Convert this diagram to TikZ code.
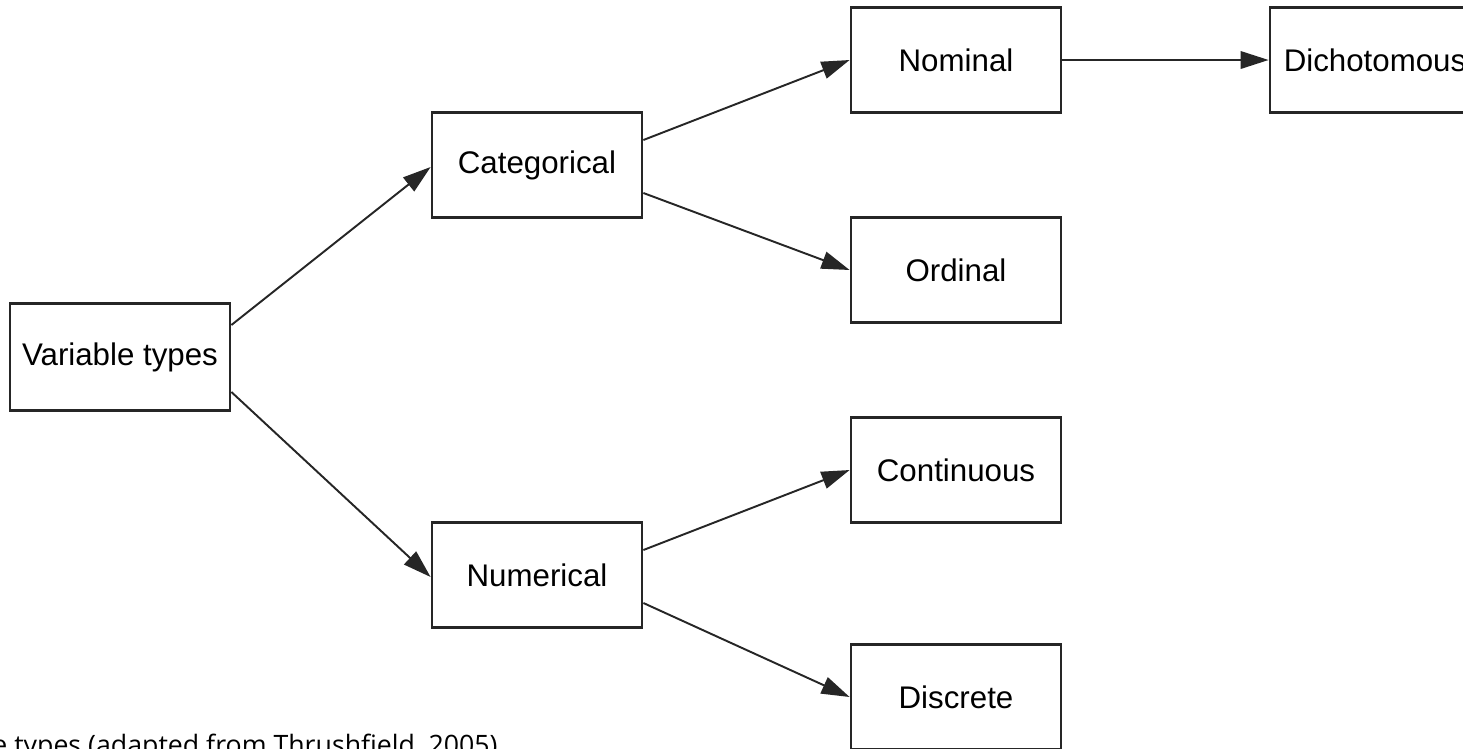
\documentclass[tikz,border=0pt]{standalone}
\usepackage{fontspec}
\setmainfont{Liberation Sans}
\newfontfamily\captionfont{Open Sans}
\usetikzlibrary{arrows.meta}

\tikzset{
	typebox/.style = {draw = black!85, line width = 1.6pt, fill = white,
		minimum width = 4.2cm, minimum height = 2.1cm, inner sep = 0pt,
		font = \fontsize{17.8}{21}\selectfont},
	typearrow/.style = {draw = black!85, line width = 1.1pt,
		-{Triangle[length = 16pt, width = 10pt]}}
}

\begin{document}
\begin{tikzpicture}[x = 0.02cm, y = -0.02cm]
	
	\useasboundingbox (0,0) rectangle (1463,748);
	\clip (0,0) rectangle (1463,748);
	
	%% ROOT
	\node [typebox, minimum width = 4.4cm, minimum height = 2.14cm] (vartypes) at (120,357) {Variable types};
	
	%% SECOND LEVEL
	\node [typebox] (categorical) at (537,165) {Categorical};
	\node [typebox] (numerical)   at (537,575) {Numerical};
	
	%% THIRD LEVEL
	\node [typebox] (nominal)    at (956,60)  {Nominal};
	\node [typebox] (ordinal)    at (956,270) {Ordinal};
	\node [typebox] (continuous) at (956,470) {Continuous};
	\node [typebox] (discrete)   at (956,697) {Discrete};
	
	% Last box, cut at the right edge
	\node [typebox] (dichotomous) at (1375,60) {Dichotomous};
	
	%% ARROWS
	\draw [typearrow] ([yshift = 0.64cm]vartypes.east)  -- ([yshift = -0.04cm]categorical.west);
	\draw [typearrow] ([yshift = -0.7cm]vartypes.east)  -- ([yshift = -0.04cm]numerical.west);
	
	\draw [typearrow] ([yshift = 0.5cm]categorical.east) -- (nominal.west);
	\draw [typearrow] ([yshift = -0.56cm]categorical.east) -- (ordinal.west);
	
	\draw [typearrow] ([yshift = 0.5cm]numerical.east) -- (continuous.west);
	\draw [typearrow] ([yshift = -0.56cm]numerical.east) -- (discrete.west);
	
	\draw [typearrow] (nominal.east) -- (dichotomous.west);
	
	%% CAPTION (cut at the bottom)
	\node [anchor = base west, inner sep = 0pt, font = \captionfont\fontsize{15.2}{18}\selectfont] (caption) at (-8,754) {e types (adapted from Thrushfield, 2005)};
	
\end{tikzpicture}
\end{document}
